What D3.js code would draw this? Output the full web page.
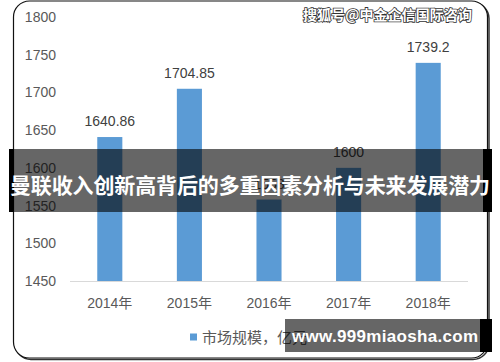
<!DOCTYPE html>
<html>
<head>
<meta charset="utf-8">
<script src="https://cdn.jsdelivr.net/npm/d3@7"></script>
<style>
  html, body { margin: 0; padding: 0; background: #fff; }
  svg { display: block; }
</style>
</head>
<body>
<svg id="chart" width="500" height="362"></svg>
<script>
'use strict';

var years = ['2014年', '2015年', '2016年', '2017年', '2018年'];
var marketSize = [1640.86, 1704.85, 1558, 1600, 1739.2];
var yTicks = [1450, 1500, 1550, 1600, 1650, 1700, 1750, 1800];
var legendLabel = '市场规模，亿元';
var bannerTitle = '曼联收入创新高背后的多重因素分析与未来发展潜力';
var sourceMark = '搜狐号@中金企信国际咨询';
var siteMark = 'www.999miaosha.com';

var svg = d3.select('#chart');
var numFont = '"Liberation Sans", "Noto Sans CJK SC", sans-serif';
var cjkFont = '"Noto Sans CJK SC", "Liberation Sans", sans-serif';

svg.append('rect').attr('width', 500).attr('height', 362).attr('fill', '#fff');

// frame with a little shadow on the bottom / right
svg.append('rect')
  .attr('x', 15).attr('y', 2.5).attr('width', 474).attr('height', 357)
  .attr('rx', 16).attr('fill', 'none').attr('stroke', '#333').attr('stroke-width', 1.5);
svg.append('rect')
  .attr('x', 13.5).attr('y', 1).attr('width', 474).attr('height', 357)
  .attr('rx', 16).attr('fill', '#fff').attr('stroke', '#111').attr('stroke-width', 1.2);

var x = d3.scaleBand().domain(years).range([70, 468]).paddingInner(0.685).paddingOuter(0.3425);
var y = d3.scaleLinear().domain([1450, 1800]).range([281, 17]);

// y axis labels, no line
var yAxis = svg.append('g')
  .attr('transform', 'translate(56,0)')
  .call(d3.axisLeft(y).tickValues(yTicks).tickSize(0).tickPadding(0).tickFormat(d3.format('d')));
yAxis.select('.domain').remove();
yAxis.selectAll('text')
  .attr('font-family', numFont).attr('font-size', 14).attr('fill', '#595959');

// bars
svg.append('g').selectAll('rect')
  .data(marketSize)
  .enter().append('rect')
  .attr('x', function (d, i) { return x(years[i]); })
  .attr('y', function (d) { return y(d); })
  .attr('width', x.bandwidth())
  .attr('height', function (d) { return y(1450) - y(d); })
  .attr('fill', '#5b9bd5');

// value labels
svg.append('g').selectAll('text')
  .data(marketSize)
  .enter().append('text')
  .attr('x', function (d, i) { return x(years[i]) + x.bandwidth() / 2; })
  .attr('y', function (d) { return y(d) - 11; })
  .attr('text-anchor', 'middle')
  .attr('font-family', numFont).attr('font-size', 14).attr('fill', '#404040')
  .text(function (d) { return d; });

// x axis: light baseline + labels
var xAxis = svg.append('g')
  .attr('transform', 'translate(0,' + y(1450) + ')')
  .call(d3.axisBottom(x).tickSize(0).tickPadding(17));
xAxis.select('.domain').attr('stroke', '#d9d9d9').attr('d', 'M70,0.5H468');
xAxis.selectAll('text')
  .attr('font-family', numFont).attr('font-size', 14).attr('fill', '#595959');

// legend
var legend = svg.append('g').attr('transform', 'translate(190,337)');
legend.append('rect').attr('x', 0).attr('y', -3.5).attr('width', 7).attr('height', 7).attr('fill', '#5b9bd5');
legend.append('text')
  .attr('x', 12).attr('y', 5.5)
  .attr('font-family', cjkFont).attr('font-size', 15).attr('fill', '#595959')
  .text(legendLabel);

// source watermark, top right
svg.append('text')
  .attr('x', 472).attr('y', 20)
  .attr('text-anchor', 'end')
  .attr('font-family', cjkFont).attr('font-size', 14).attr('font-weight', 'bold')
  .attr('fill', '#fff').attr('stroke', '#333').attr('stroke-width', 1.6)
  .attr('paint-order', 'stroke').attr('textLength', 169)
  .text(sourceMark);

// title banner across the middle
svg.append('rect').attr('x', 9).attr('y', 149).attr('width', 483).attr('height', 63).attr('fill', 'rgba(0,0,0,0.6)');
svg.append('rect').attr('x', 9).attr('y', 149).attr('width', 5).attr('height', 63).attr('fill', '#000');
svg.append('rect').attr('x', 483).attr('y', 149).attr('width', 9).attr('height', 63).attr('fill', '#000');
svg.append('text')
  .attr('x', 250).attr('y', 193)
  .attr('text-anchor', 'middle')
  .attr('font-family', cjkFont).attr('font-size', 21).attr('font-weight', 'bold')
  .attr('fill', '#fff').attr('textLength', 480)
  .text(bannerTitle);

// site watermark, bottom right
svg.append('rect').attr('x', 285).attr('y', 319).attr('width', 207).attr('height', 33).attr('fill', 'rgba(0,0,0,0.6)');
svg.append('rect').attr('x', 480).attr('y', 319).attr('width', 12).attr('height', 33).attr('fill', '#000');
svg.append('text')
  .attr('x', 292).attr('y', 342)
  .attr('font-family', numFont).attr('font-size', 17).attr('font-weight', 'bold')
  .attr('fill', '#fff').attr('textLength', 186)
  .text(siteMark);
</script>
</body>
</html>
